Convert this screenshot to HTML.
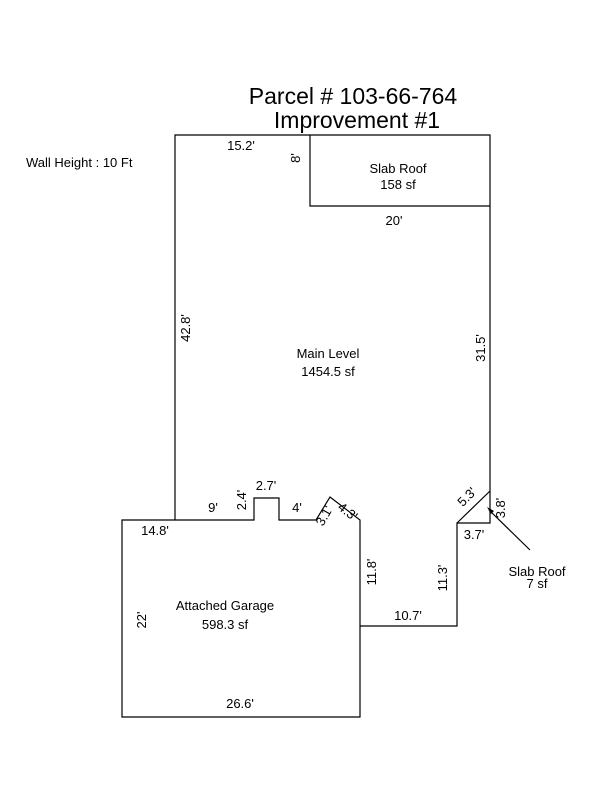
<!DOCTYPE html>
<html><head><style>body{margin:0;background:#fff}svg{display:block}text{font-family:"Liberation Sans",sans-serif;fill:#000}</style></head><body>
<svg width="600" height="800" viewBox="0 0 600 800" xmlns="http://www.w3.org/2000/svg">
<g fill="none" stroke="#000" stroke-width="1.2">
<polyline points="175,520 175,135 490,135 490,523 457,523 457,626 360,626 360,520 330,497 316,520 279,520 279,498 254,498 254,520 122,520 122,717 360,717 360,626"/>
<polyline points="310,135 310,206 490,206"/>
<line x1="490" y1="491" x2="457" y2="523"/>
<line x1="530" y1="550" x2="489" y2="510"/>
</g>
<polygon points="487,507 494,511 491,514" fill="#000"/>
<text x="353" y="104" font-size="23" text-anchor="middle">Parcel # 103-66-764</text>
<text x="357" y="128" font-size="23" text-anchor="middle">Improvement #1</text>
<g font-size="13">
<text x="26" y="167">Wall Height : 10 Ft</text>
<text x="241" y="150" text-anchor="middle">15.2'</text>
<text x="398" y="173" text-anchor="middle">Slab Roof</text>
<text x="398" y="189" text-anchor="middle">158 sf</text>
<text x="394" y="225" text-anchor="middle">20'</text>
<text x="328" y="358" text-anchor="middle">Main Level</text>
<text x="328" y="376" text-anchor="middle">1454.5 sf</text>
<text x="213" y="512" text-anchor="middle">9'</text>
<text x="266" y="490" text-anchor="middle">2.7'</text>
<text x="297" y="512" text-anchor="middle">4'</text>
<text x="155" y="535" text-anchor="middle">14.8'</text>
<text x="474" y="539" text-anchor="middle">3.7'</text>
<text x="225" y="610" text-anchor="middle">Attached Garage</text>
<text x="225" y="629" text-anchor="middle">598.3 sf</text>
<text x="408" y="620" text-anchor="middle">10.7'</text>
<text x="240" y="708" text-anchor="middle">26.6'</text>
<text x="537" y="576" text-anchor="middle">Slab Roof</text>
<text x="537" y="588" text-anchor="middle">7 sf</text>
<text transform="translate(300,158) rotate(-90)" text-anchor="middle">8'</text>
<text transform="translate(190,328) rotate(-90)" text-anchor="middle">42.8'</text>
<text transform="translate(485,348) rotate(-90)" text-anchor="middle">31.5'</text>
<text transform="translate(246,500) rotate(-90)" text-anchor="middle">2.4'</text>
<text transform="translate(376,572) rotate(-90)" text-anchor="middle">11.8'</text>
<text transform="translate(447,578) rotate(-90)" text-anchor="middle">11.3'</text>
<text transform="translate(146,620) rotate(-90)" text-anchor="middle">22'</text>
<text transform="translate(505,508) rotate(-90)" text-anchor="middle">3.8'</text>
<text transform="translate(470,500) rotate(-45)" text-anchor="middle">5.3'</text>
<text transform="translate(328,518) rotate(-60)" text-anchor="middle">3.1'</text>
<text transform="translate(345,515) rotate(38)" text-anchor="middle">4.3'</text>
</g>
</svg>
</body></html>
